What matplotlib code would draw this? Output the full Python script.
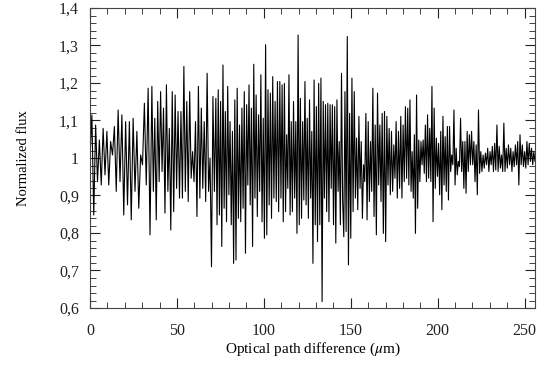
import numpy as np
import matplotlib
matplotlib.use("Agg")
import matplotlib.pyplot as plt
from matplotlib.ticker import MultipleLocator, FuncFormatter

# Normalized flux, segment by segment (alternating maxima / minima)
seg1 = [1.00, 1.115, 0.848, 1.088, 0.937, 1.048, 0.928, 1.079, 0.955, 1.071, 0.928, 1.044, 1.008,
        1.084, 0.911, 1.128, 0.937, 1.115, 0.848, 1.097, 0.875, 1.097, 0.835, 1.106, 0.911, 1.071,
        0.866, 1.008, 0.982, 1.146, 0.928, 1.186, 0.795]
seg2 = [1.191, 0.911, 1.106, 0.835, 1.151, 0.937, 1.177, 0.964, 1.133, 0.853, 1.195, 0.911, 1.079,
        0.808, 1.177, 0.857, 1.168, 0.919, 1.124, 0.893, 1.124, 0.893, 1.244, 0.911, 1.151, 0.884,
        1.177, 0.946, 1.017, 0.937, 1.097, 0.844, 1.191, 0.893, 1.133, 0.919, 1.097, 0.884, 1.226,
        0.911, 1.000, 0.710, 1.164, 0.911]
seg3 = [1.159, 0.822, 1.182, 0.848, 1.151, 0.764, 1.248, 0.866, 1.124, 0.830, 1.191, 0.902, 1.097,
        0.822, 1.071, 0.719, 1.155, 0.728, 1.186, 0.839, 1.088, 0.830, 1.133, 0.866, 1.177, 0.746,
        1.142, 0.928, 1.195, 0.875, 1.133, 0.764, 1.250, 0.893, 1.168, 0.844, 1.115, 0.911, 1.222,
        0.830, 1.106, 0.786, 1.302, 0.795, 1.182, 0.875, 1.173, 0.839, 1.217, 0.893, 1.151, 0.884,
        1.204, 0.857]
seg4 = [1.204, 0.893, 1.195, 0.830, 1.199, 0.857, 1.062, 0.919, 1.222, 0.848, 1.097, 0.857, 1.151,
        0.893, 1.097, 0.799, 1.328, 0.822, 1.159, 0.839, 1.097, 0.888, 1.204, 0.875, 1.106, 0.839,
        1.155, 0.893, 1.071, 0.719, 1.208, 0.822, 1.137, 0.777, 1.199, 0.822, 1.213, 0.617, 1.151,
        0.893, 1.142, 0.857, 1.146, 0.830, 1.142, 0.919, 1.142, 0.822, 1.137, 0.773, 1.155, 0.911,
        1.044, 0.822, 1.226, 0.884]
seg5 = [0.790, 1.177, 0.804, 1.324, 0.715, 1.119, 0.786, 1.213, 0.857, 1.177, 0.893, 1.053, 0.862,
        1.111, 0.919, 1.044, 0.839, 0.982, 0.937, 1.119, 0.835, 1.097, 0.884, 1.044, 0.911, 1.186,
        0.844, 1.088, 0.795, 1.173, 0.928, 1.088, 0.884, 1.119, 0.799, 1.124, 0.777, 1.111, 0.928,
        1.079, 0.902, 1.071, 0.911, 1.035, 0.946, 1.097, 0.893, 1.071, 0.919, 1.111, 0.893, 1.088,
        0.937, 1.137, 0.946]
seg6 = [1.133, 0.928, 1.155, 0.911, 1.017, 0.893, 1.062, 0.799, 1.168, 0.866, 1.048, 0.937, 1.044,
        0.982, 1.048, 0.959, 1.088, 0.937, 1.115, 0.946, 1.079, 0.937, 1.191, 0.830, 1.133, 0.919,
        1.053, 0.951, 1.039, 0.902, 1.071, 0.862, 1.111, 0.928, 1.057, 0.911, 1.084, 0.888, 1.084,
        0.964, 1.008, 0.982, 1.128, 0.928, 1.026, 0.955, 0.991, 0.977, 1.106, 0.964, 1.044, 0.919,
        1.044, 0.906, 1.071, 0.964, 1.062, 0.982]
seg7 = [1.071, 0.982, 1.044, 0.937, 1.035, 0.902, 1.128, 0.959, 1.017, 0.964, 1.008, 0.973, 1.013,
        0.982, 1.026, 0.964, 1.017, 0.982, 1.031, 0.964, 1.039, 0.968, 1.088, 0.964, 1.031, 0.973,
        1.008, 0.964, 1.093, 0.964, 1.026, 0.973, 1.035, 0.982, 1.026, 0.964, 1.017, 0.977, 1.035,
        0.982, 1.044, 0.928, 1.062, 0.982, 1.035, 0.977, 1.017, 0.973, 1.044, 0.982, 1.039, 0.991,
        1.026, 0.982, 1.017, 0.991]

# Optical path difference span (µm) covered by each segment
segment_edges_um = [0.0, 35.6, 72.4, 109.2, 146.0, 182.8, 219.5, 256.0]

segments = [seg1, seg2, seg3, seg4, seg5, seg6, seg7]
opd, flux = [], []
for i, seg in enumerate(segments):
    last = i == len(segments) - 1
    opd.append(np.linspace(segment_edges_um[i], segment_edges_um[i + 1], len(seg), endpoint=last))
    flux.append(np.array(seg))
opd = np.concatenate(opd)
flux = np.concatenate(flux)

plt.rcParams['font.family'] = ['Liberation Serif', 'DejaVu Serif']
plt.rcParams['mathtext.fontset'] = 'stix'

fig = plt.figure(figsize=(5.37, 3.65), dpi=100)
ax = fig.add_axes([90 / 537, 1 - 308 / 365, 445 / 537, 300 / 365])

ax.plot(opd, flux, color='black', lw=0.8)

ax.set_xlim(0, 256)
ax.set_ylim(0.6, 1.4)
ax.xaxis.set_major_locator(MultipleLocator(50))
ax.xaxis.set_minor_locator(MultipleLocator(10))
ax.yaxis.set_major_locator(MultipleLocator(0.1))
ax.yaxis.set_minor_locator(MultipleLocator(0.02))


def comma_fmt(v, pos):
    s = f"{v:.1f}".rstrip('0').rstrip('.')
    return s.replace('.', ',')


ax.yaxis.set_major_formatter(FuncFormatter(comma_fmt))
ax.tick_params(which='both', direction='in', top=True, right=True, labelsize=11.5, colors='#222222')
ax.tick_params(axis='x', which='major', length=7, width=0.8, pad=11)
ax.tick_params(axis='y', which='major', length=7, width=0.8, pad=8)
ax.tick_params(which='minor', length=4, width=0.6)
for s in ax.spines.values():
    s.set_linewidth(0.8)
    s.set_color('#444444')

ax.set_xlabel(r'Optical path difference ($\mu$m)', fontsize=11, labelpad=1)
ax.set_ylabel('Normalized flux', fontsize=10.5, labelpad=21)

fig.savefig('out.png', dpi=100)
